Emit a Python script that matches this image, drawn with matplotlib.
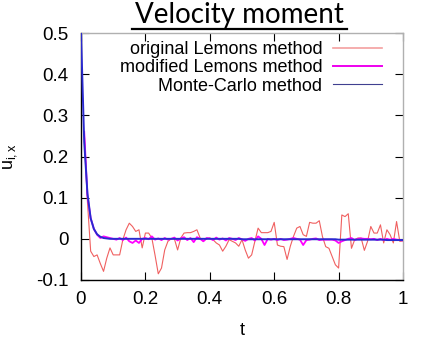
import matplotlib
matplotlib.use("Agg")
import matplotlib.pyplot as plt
from matplotlib.lines import Line2D
import numpy as np

# ---- data ----
t_grid = [round(i * 0.01, 2) for i in range(101)]

# Lemons series start at t = 0.01
original_lemons = [
    0.26, 0.09, -0.03, -0.043, -0.039, -0.06, -0.079, -0.047, -0.022,
    -0.039, -0.039, -0.039, -0.002, 0.022, 0.038, 0.030, 0.018, 0.022, -0.022,
    0.014, 0.014, 0.002, -0.040, -0.085, -0.071, -0.027, -0.006, 0.000, 0.000,
    -0.027, 0.002, 0.014, 0.015, 0.015, 0.018, 0.022, 0.002, -0.006, 0.000,
    0.002, -0.002, -0.010, -0.015, -0.030, -0.018, -0.002, -0.006, -0.010, -0.018,
    -0.002, -0.027, -0.047, -0.039, -0.006, 0.026, 0.015, 0.015, 0.015, 0.018,
    0.040, -0.015, -0.018, -0.019, -0.050, -0.018, 0.006, 0.026, 0.030, 0.010,
    0.006, 0.040, 0.038, 0.038, 0.044, 0.005, -0.019, -0.023, -0.043, -0.063,
    -0.071, 0.058, 0.054, 0.061, -0.023, -0.002, 0.002, 0.002, -0.028, -0.006,
    0.030, 0.014, 0.014, 0.034, -0.010, 0.022, 0.010, -0.010, 0.042, -0.006,
    -0.005,
]

modified_lemons = [
    0.26, 0.105, 0.05, 0.024, 0.010, 0.002, 0.006, 0.004, 0.002,
    0.000, -0.002, 0.002, -0.003, 0.003, -0.006, -0.010, -0.004, -0.010, 0.000,
    0.002, -0.001, 0.006, -0.002, 0.001, -0.003, 0.002, -0.002, 0.000, 0.003,
    -0.004, 0.001, 0.004, -0.003, 0.002, -0.008, 0.004, 0.000, -0.006, 0.002,
    0.001, -0.003, 0.003, -0.002, 0.001, -0.004, 0.002, 0.000, -0.003, 0.002,
    -0.001, -0.005, 0.000, 0.002, -0.004, 0.006, 0.000, -0.015, 0.000, -0.002,
    0.000, -0.003, 0.000, -0.003, -0.002, 0.000, 0.002, 0.000, -0.002, -0.015,
    -0.003, -0.002, 0.000, 0.001, -0.003, -0.002, -0.002, -0.002, -0.002, -0.004,
    -0.010, -0.006, -0.003, 0.000, 0.002, -0.003, 0.000, 0.001, 0.000, 0.000,
    -0.001, 0.000, -0.003, 0.000, -0.003, 0.000, -0.002, 0.000, -0.002, -0.003,
    -0.004,
]

monte_carlo = [
    0.50, 0.235, 0.110, 0.050, 0.024, 0.011, 0.005, 0.002, 0.001, 0.000,
] + [0.000] * 40 + [-0.001] * 30 + [-0.002] * 15 + [-0.003] * 6

xticks = [0, 0.2, 0.4, 0.6, 0.8, 1]
xtick_labels = ["0", "0.2", "0.4", "0.6", "0.8", "1"]
yticks = [-0.1, 0, 0.1, 0.2, 0.3, 0.4, 0.5]
ytick_labels = ["-0.1", "0", "0.1", "0.2", "0.3", "0.4", "0.5"]

plt.rcParams['font.family'] = ['Liberation Sans', 'DejaVu Sans']

fig = plt.figure(figsize=(4.22, 3.41), dpi=100)
ax = fig.add_axes([81/422, 1 - 280/341, 322/422, 247/341])

ax.plot(t_grid[1:], original_lemons, color='#f06060', lw=0.8,
        label='original Lemons method', zorder=2)
ax.plot(t_grid[1:], modified_lemons, color='#ff00ff', lw=1.3,
        label='modified Lemons method', zorder=3)
ax.plot(t_grid, monte_carlo, color='#2a2ad0', lw=1.4,
        label='Monte-Carlo method', zorder=4)

ax.set_xlim(0, 1)
ax.set_ylim(-0.1, 0.5)
ax.set_xticks(xticks)
ax.set_xticklabels(xtick_labels)
ax.set_yticks(yticks)
ax.set_yticklabels(ytick_labels)
ax.tick_params(direction='in', length=6, width=0.8, top=True, right=True,
               labelsize=13.5, colors='black')
ax.tick_params(axis='x', pad=8)
ax.tick_params(axis='y', pad=9)
for s in ['left', 'bottom']:
    ax.spines[s].set_color('black')
    ax.spines[s].set_linewidth(1.0)
for s in ['top', 'right']:
    ax.spines[s].set_color('#b0b0b0')
    ax.spines[s].set_linewidth(1.0)

ax.set_xlabel('t', fontsize=13, labelpad=10)
ax.set_ylabel(r'u$_{\mathregular{i,x}}$', fontsize=13, labelpad=12)

leg = ax.legend(loc='upper right', frameon=False, markerfirst=False,
                fontsize=13, handlelength=2.7, handletextpad=0.6,
                labelspacing=0.08, borderaxespad=0, borderpad=0,
                bbox_to_anchor=(0.935, 0.968))
for txt in leg.get_texts():
    txt.set_ha('right')
leg._legend_box.align = 'right'
hs = leg.legend_handles
hs[0].set_color('#f4a0a0'); hs[0].set_linewidth(1.2)
hs[1].set_color('#ee00ee'); hs[1].set_linewidth(1.4)
hs[2].set_color('#404090'); hs[2].set_linewidth(0.8)

fig.text(239/422, 1 - 23/341, 'Velocity moment', fontsize=20,
         family=['Lato', 'DejaVu Sans'], ha='center', va='baseline')
fig.lines.append(Line2D([132/422, 347/422], [1 - 29/341, 1 - 29/341],
                        transform=fig.transFigure, color='black', lw=1.6))

fig.savefig('out.png', dpi=100)
